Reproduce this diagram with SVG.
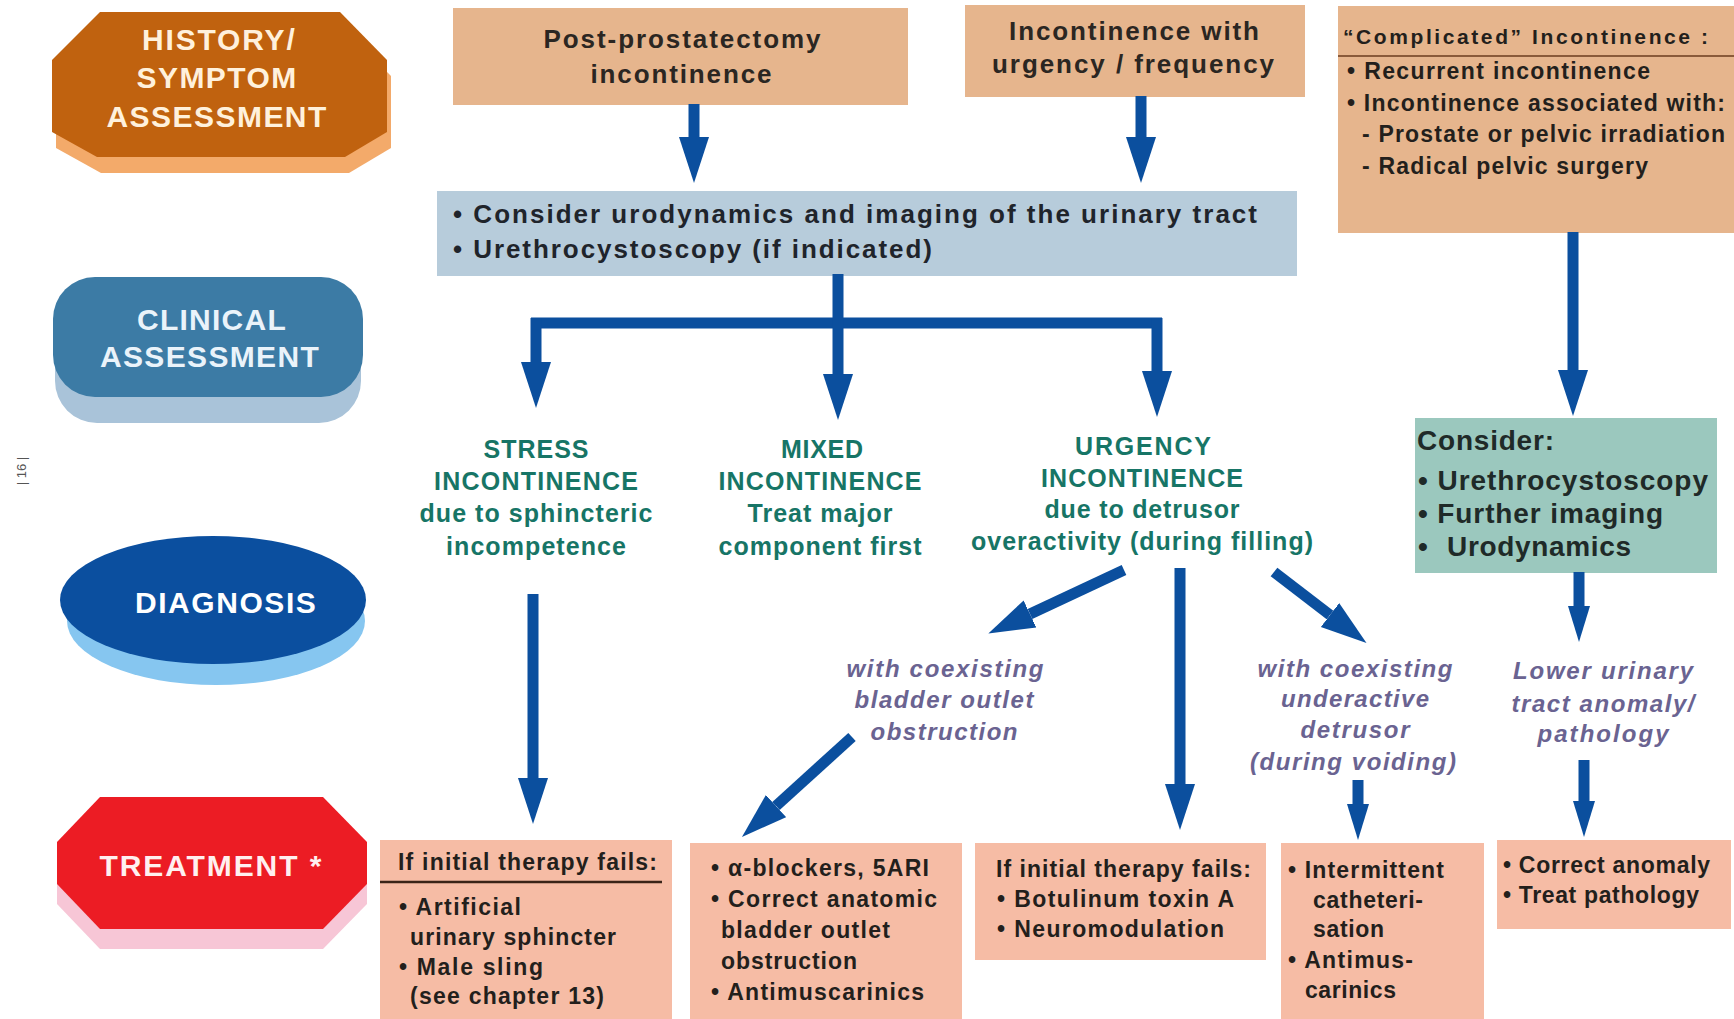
<svg xmlns="http://www.w3.org/2000/svg" width="1734" height="1019" viewBox="0 0 1734 1019">
<style>
text{font-family:"Liberation Sans",Arial,Helvetica,sans-serif;font-weight:bold}
.lbl{font-size:30px;text-anchor:middle;letter-spacing:1.2px}
.top{font-size:26px;fill:#2b2622;text-anchor:middle}
.bx{font-size:23px;fill:#231f1c}
.cu{font-size:26px;fill:#1f242b}
.dx{font-size:25px;fill:#177566;text-anchor:middle}
.it{font-size:24px;fill:#6a6391;font-style:italic;text-anchor:middle}
.cs{font-size:28px;fill:#1f2a28}
.tan{fill:#E6B58D}
.sal{fill:#F6BCA5}
.arr{stroke:#0B4F9E;stroke-width:11;fill:none}
</style>
<defs>
<marker id="hd" viewBox="0 -16 48 32" markerWidth="48" markerHeight="32" refX="0" refY="0" orient="auto" markerUnits="userSpaceOnUse">
<path d="M0,-15 L46,0 L0,15 z" fill="#0B4F9E"/>
</marker>
<marker id="hs" viewBox="0 -12 38 24" markerWidth="38" markerHeight="24" refX="0" refY="0" orient="auto" markerUnits="userSpaceOnUse">
<path d="M0,-11 L36,0 L0,11 z" fill="#0B4F9E"/>
</marker>
</defs>
<rect width="1734" height="1019" fill="#ffffff"/>

<text transform="translate(26,471) rotate(-90)" style="font-size:13px;font-weight:normal;fill:#555;text-anchor:middle">| 16 |</text>

<g id="history">
<polygon points="100,12 340,12 387,60 387,132 345,157 97,157 52,132 52,60" transform="translate(4,16)" fill="#F3AA6A"/>
<polygon points="100,12 340,12 387,60 387,132 345,157 97,157 52,132 52,60" fill="#C0620F"/>
<text class="lbl" x="219" y="50" fill="#FFF1DC" textLength="154">HISTORY/</text>
<text class="lbl" x="217" y="88" fill="#FFF1DC" textLength="161">SYMPTOM</text>
<text class="lbl" x="217" y="127" fill="#FFF1DC" textLength="221">ASSESSMENT</text>
</g>

<g id="clinical">
<rect x="55" y="302" width="306" height="121" rx="42" fill="#A9C3D9"/>
<rect x="53" y="277" width="310" height="120" rx="42" fill="#3C7BA5"/>
<text class="lbl" x="212" y="330" fill="#EAF3FA" textLength="150">CLINICAL</text>
<text class="lbl" x="210" y="367" fill="#EAF3FA" textLength="220">ASSESSMENT</text>
</g>

<g id="diagnosis">
<ellipse cx="216" cy="621" rx="149" ry="64" fill="#86C6F0"/>
<ellipse cx="213" cy="600" rx="153" ry="64" fill="#0B4F9F"/>
<text class="lbl" x="226" y="613" fill="#ffffff" textLength="182">DIAGNOSIS</text>
</g>

<g id="treatment">
<polygon points="100,797 323,797 367,842 367,884 323,929 100,929 57,884 57,842" transform="translate(0,20)" fill="#F7C6D6"/>
<polygon points="100,797 323,797 367,842 367,884 323,929 100,929 57,884 57,842" fill="#EC1C24"/>
<text class="lbl" x="211" y="876" fill="#FFF0F0" textLength="223">TREATMENT *</text>
</g>

<g id="post-prostatectomy">
<rect class="tan" x="453" y="8" width="455" height="97"/>
<text class="top" x="682" y="48" textLength="277">Post-prostatectomy</text>
<text class="top" x="681" y="83" textLength="181">incontinence</text>
</g>

<g id="urgency-frequency">
<rect class="tan" x="965" y="5" width="340" height="92"/>
<text class="top" x="1134" y="40" textLength="250">Incontinence with</text>
<text class="top" x="1133" y="73" textLength="282">urgency / frequency</text>
</g>

<g id="complicated">
<rect class="tan" x="1338" y="6" width="396" height="227"/>
<line x1="1338" y1="56" x2="1734" y2="56" stroke="#8a5a3a" stroke-width="2"/>
<text class="bx" x="1343" y="44" style="font-size:21px" textLength="365">“Complicated” Incontinence :</text>
<text class="bx" x="1347" y="79" textLength="303">• Recurrent incontinence</text>
<text class="bx" x="1347" y="111" textLength="378">• Incontinence associated with:</text>
<text class="bx" x="1362" y="142" textLength="363">- Prostate or pelvic irradiation</text>
<text class="bx" x="1362" y="174" textLength="286">- Radical pelvic surgery</text>
</g>

<g id="consider-urodynamics">
<rect x="437" y="191" width="860" height="85" fill="#B7CCDB"/>
<text class="cu" x="453" y="223" textLength="804">• Consider urodynamics and imaging of the urinary tract</text>
<text class="cu" x="453" y="258" textLength="479">• Urethrocystoscopy (if indicated)</text>
</g>

<g id="stress">
<text class="dx" x="536" y="458" textLength="105">STRESS</text>
<text class="dx" x="536" y="490" textLength="204">INCONTINENCE</text>
<text class="dx" x="536" y="522" textLength="233">due to sphincteric</text>
<text class="dx" x="536" y="555" textLength="180">incompetence</text>
</g>

<g id="mixed">
<text class="dx" x="822" y="458" textLength="82">MIXED</text>
<text class="dx" x="820" y="490" textLength="203">INCONTINENCE</text>
<text class="dx" x="820" y="522" textLength="145">Treat major</text>
<text class="dx" x="820" y="555" textLength="203">component first</text>
</g>

<g id="urgency">
<text class="dx" x="1143" y="455" textLength="136">URGENCY</text>
<text class="dx" x="1142" y="487" textLength="202">INCONTINENCE</text>
<text class="dx" x="1142" y="518" textLength="195">due to detrusor</text>
<text class="dx" x="1142" y="550" textLength="342">overactivity (during filling)</text>
</g>

<g id="consider">
<rect x="1415" y="418" width="302" height="155" fill="#9BC8BE"/>
<text class="cs" x="1417" y="450" textLength="137">Consider:</text>
<text class="cs" x="1418" y="490" textLength="290">• Urethrocystoscopy</text>
<text class="cs" x="1418" y="523" textLength="245">• Further imaging</text>
<text class="cs" x="1418" y="556">•<tspan x="1447" textLength="184">Urodynamics</tspan></text>
</g>

<g id="bladder-outlet">
<text class="it" x="945" y="677" textLength="197">with coexisting</text>
<text class="it" x="944" y="708" textLength="179">bladder outlet</text>
<text class="it" x="944" y="740" textLength="147">obstruction</text>
</g>

<g id="underactive">
<text class="it" x="1355" y="677" textLength="195">with coexisting</text>
<text class="it" x="1355" y="707" textLength="148">underactive</text>
<text class="it" x="1355" y="738" textLength="109">detrusor</text>
<text class="it" x="1353" y="770" textLength="206">(during voiding)</text>
</g>

<g id="lower-urinary">
<text class="it" x="1603" y="679" textLength="180">Lower urinary</text>
<text class="it" x="1603" y="712" textLength="183">tract anomaly/</text>
<text class="it" x="1603" y="742" textLength="131">pathology</text>
</g>

<g id="tx-stress">
<rect class="sal" x="380" y="840" width="292" height="185"/>
<text class="bx" x="398" y="870" textLength="259">If initial therapy fails:</text>
<line x1="380" y1="882" x2="662" y2="882" stroke="#3a2418" stroke-width="2.5"/>
<text class="bx" x="399" y="915" textLength="122">• Artificial</text>
<text class="bx" x="410" y="945" textLength="206">urinary sphincter</text>
<text class="bx" x="399" y="975" textLength="144">• Male sling</text>
<text class="bx" x="410" y="1004" textLength="194">(see chapter 13)</text>
</g>

<g id="tx-obstruction">
<rect class="sal" x="690" y="843" width="272" height="182"/>
<text class="bx" x="711" y="876" textLength="218">• α-blockers, 5ARI</text>
<text class="bx" x="711" y="907" textLength="226">• Correct anatomic</text>
<text class="bx" x="721" y="938" textLength="169">bladder outlet</text>
<text class="bx" x="721" y="969" textLength="136">obstruction</text>
<text class="bx" x="711" y="1000" textLength="213">• Antimuscarinics</text>
</g>

<g id="tx-urgency">
<rect class="sal" x="975" y="843" width="291" height="117"/>
<text class="bx" x="996" y="877" textLength="255">If initial therapy fails:</text>
<text class="bx" x="997" y="907" textLength="237">• Botulinum toxin A</text>
<text class="bx" x="997" y="937" textLength="227">• Neuromodulation</text>
</g>

<g id="tx-underactive">
<rect class="sal" x="1281" y="843" width="203" height="182"/>
<text class="bx" x="1288" y="878" textLength="156">• Intermittent</text>
<text class="bx" x="1313" y="908" textLength="110">catheteri-</text>
<text class="bx" x="1313" y="937" textLength="71">sation</text>
<text class="bx" x="1288" y="968" textLength="125">• Antimus-</text>
<text class="bx" x="1305" y="998" textLength="91">carinics</text>
</g>

<g id="tx-anomaly">
<rect class="sal" x="1497" y="840" width="234" height="89"/>
<text class="bx" x="1503" y="873" textLength="207">• Correct anomaly</text>
<text class="bx" x="1503" y="903" textLength="196">• Treat pathology</text>
</g>

<g id="connectors">
<line class="arr" x1="694" y1="104" x2="694" y2="137" marker-end="url(#hd)"/>
<line class="arr" x1="1141" y1="96" x2="1141" y2="137" marker-end="url(#hd)"/>
<path class="arr" d="M838,274 V323 M531,323 H1162" stroke-width="10"/>
<line class="arr" x1="536" y1="318" x2="536" y2="362" marker-end="url(#hd)"/>
<line class="arr" x1="838" y1="318" x2="838" y2="374" marker-end="url(#hd)"/>
<line class="arr" x1="1157" y1="318" x2="1157" y2="371" marker-end="url(#hd)"/>
<line class="arr" x1="1573" y1="232" x2="1573" y2="370" marker-end="url(#hd)"/>
<line class="arr" x1="1579" y1="572" x2="1579" y2="606" stroke-width="9" marker-end="url(#hs)"/>
<line class="arr" x1="1584" y1="760" x2="1584" y2="801" stroke-width="9" marker-end="url(#hs)"/>
<line class="arr" x1="533" y1="594" x2="533" y2="778" marker-end="url(#hd)"/>
<line class="arr" x1="1124" y1="570" x2="1030" y2="614" stroke-width="10" marker-end="url(#hd)"/>
<line class="arr" x1="1180" y1="568" x2="1180" y2="784" marker-end="url(#hd)"/>
<line class="arr" x1="1274" y1="572" x2="1330" y2="615" stroke-width="10" marker-end="url(#hd)"/>
<line class="arr" x1="852" y1="737" x2="776" y2="806" stroke-width="10" marker-end="url(#hd)"/>
<line class="arr" x1="1358" y1="780" x2="1358" y2="804" stroke-width="9" marker-end="url(#hs)"/>
</g>
</svg>
